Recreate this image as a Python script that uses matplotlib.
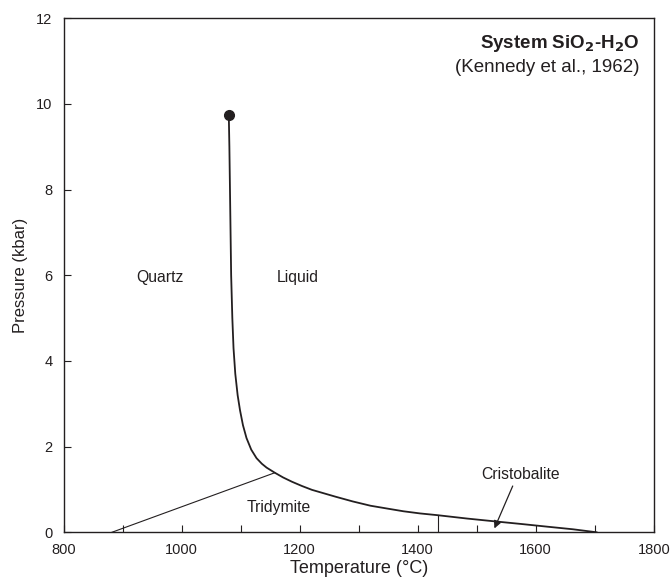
import matplotlib.pyplot as plt
from matplotlib.ticker import MultipleLocator

plt.rcParams['font.family'] = ['Liberation Sans', 'DejaVu Sans']

ink = '#231f20'

# Liquidus of quartz / tridymite / cristobalite with H2O (T in degC, P in kbar)
liq_T = [1080, 1081, 1082, 1083, 1084, 1086, 1088, 1091, 1095, 1099,
         1104, 1110, 1118, 1127, 1136, 1144, 1158, 1172, 1187, 1204,
         1221, 1241, 1261, 1290, 1320, 1350, 1376, 1404, 1433, 1484,
         1534, 1578, 1620, 1663, 1703]
liq_P = [9.75, 9.0, 8.0, 7.0, 6.0, 5.0, 4.3, 3.7, 3.2, 2.85,
         2.5, 2.2, 1.93, 1.73, 1.6, 1.51, 1.39, 1.28, 1.18, 1.08,
         0.99, 0.91, 0.83, 0.72, 0.62, 0.55, 0.49, 0.44, 0.40, 0.32,
         0.25, 0.19, 0.13, 0.07, 0.0]

# Quartz-tridymite boundary
qt_T = [882, 1158]
qt_P = [0.0, 1.39]

# Tridymite-cristobalite boundary
tc_T = [1434, 1434]
tc_P = [0.0, 0.40]

# Critical end point
end_T = 1080
end_P = 9.75

fig = plt.figure(figsize=(6.7, 5.79), dpi=100)
ax = fig.add_axes([0.0948, 0.0807, 0.881, 0.8877])

ax.plot(liq_T, liq_P, color=ink, lw=1.3, solid_joinstyle='round')
ax.plot(qt_T, qt_P, color=ink, lw=0.8)
ax.plot(tc_T, tc_P, color=ink, lw=0.8)
ax.plot(end_T, end_P, 'o', color=ink, ms=7)

ax.text(963, 5.94, 'Quartz', fontsize=11.3, ha='center', va='center', color=ink)
ax.text(1197, 5.94, 'Liquid', fontsize=11.3, ha='center', va='center', color=ink)
ax.text(1164, 0.58, 'Tridymite', fontsize=11.3, ha='center', va='center', color=ink)
ax.text(1574, 1.34, 'Cristobalite', fontsize=11.3, ha='center', va='center', color=ink)
ax.annotate('', xy=(1530, 0.09), xytext=(1561, 1.08),
            arrowprops=dict(arrowstyle='-|>', color=ink, lw=0.9,
                            mutation_scale=11, shrinkA=0, shrinkB=0))

ax.text(1775, 11.4, r'System SiO$_\mathbf{2}$-H$_\mathbf{2}$O', fontsize=13.5,
        fontweight='bold', ha='right', va='center', color=ink)
ax.text(1775, 10.85, '(Kennedy et al., 1962)', fontsize=13.5,
        ha='right', va='center', color=ink)

ax.set_xlim(800, 1800)
ax.set_ylim(0, 12)
ax.xaxis.set_major_locator(MultipleLocator(200))
ax.xaxis.set_minor_locator(MultipleLocator(100))
ax.yaxis.set_major_locator(MultipleLocator(2))
ax.tick_params(which='both', direction='in', length=5, width=0.8,
               colors=ink, labelsize=10.5)
ax.tick_params(axis='x', pad=8)
ax.tick_params(axis='y', pad=8)
for s in ax.spines.values():
    s.set_color(ink)
    s.set_linewidth(1.0)

ax.set_xlabel('Temperature (°C)', fontsize=13, color=ink, labelpad=2)
ax.set_ylabel('Pressure (kbar)', fontsize=12, color=ink, labelpad=6)

fig.savefig('out.png', dpi=100)
